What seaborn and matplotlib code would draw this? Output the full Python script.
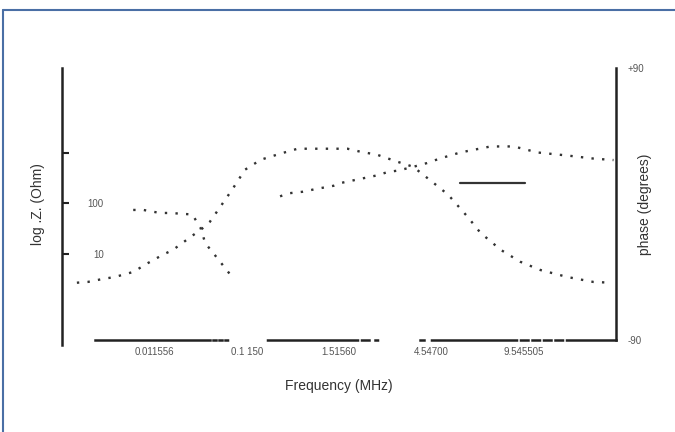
import numpy as np
import pandas as pd
import matplotlib
matplotlib.use("Agg")
import matplotlib.pyplot as plt
from matplotlib.lines import Line2D
import seaborn as sns

# impedance magnitude (left axis, log)
freq_z = [0.16, 0.28, 0.44, 0.57, 0.77, 0.93, 1.09, 1.20, 1.35, 1.53, 1.60, 1.69,
          1.84, 1.98, 2.15, 2.36, 2.55, 2.69, 2.93, 3.09, 3.23, 3.41, 3.63, 3.80,
          4.02, 4.18, 4.39, 4.53, 4.75, 4.96, 5.18, 5.47, 5.75, 5.94]
z_ohm = [2.7, 2.8, 3.2, 3.5, 4.4, 6.6, 9.6, 12, 19, 33, 43, 74,
         184, 458, 721, 948, 1190, 1190, 1190, 1190, 1038, 906, 659, 525,
         253, 147, 54, 26, 12, 7.0, 4.8, 3.5, 2.8, 2.7]

# phase (right axis), gap where the trace breaks
freq_ph = [0.77, 0.88, 1.06, 1.17, 1.41, 1.50, 1.55, 1.63, 1.85, 2.10,
           2.36, 2.45, 2.60, 2.76, 2.94, 3.03, 3.42, 3.52, 3.63, 3.77,
           3.95, 4.09, 4.31, 4.64, 4.89, 5.15, 5.47, 5.75, 5.97]
phase_deg = [-4, -4, -6, -6, -7, -16, -26, -32, -49, np.nan,
             5, 7, 8, 10, 12, 14, 19, 21, 22, 24,
             27, 30, 34, 38, 38, 34, 32, 30, 29]

xtick_pos = [1, 2, 3, 4, 5]
xtick_labels = ["0.011556", "0.1 150", "1.51560", "4.54700", "9.545505"]

sns.set_theme(style="white")
plt.rcParams['font.family'] = ['Liberation Sans', 'DejaVu Sans']

fig = plt.figure(figsize=(6.75, 4.32), dpi=100)
ax = fig.add_axes([0.092, 0.213, 0.821, 0.63])
ax2 = ax.twinx()

dots = (0, (1, 3.5))
sns.lineplot(x=freq_z, y=z_ohm, ax=ax, color="#333333", lw=1.7, linestyle=dots, sort=False)
df_ph = pd.DataFrame({"f": freq_ph, "p": phase_deg})
ax2.plot(df_ph["f"], df_ph["p"], color="#333333", lw=1.7, linestyle=dots)

ax.set_yscale("log")
ax.set_ylim(0.2, 47000)
ax.set_xlim(0, 6)
ax2.set_ylim(-90, 90)

for a in (ax, ax2):
    for s in a.spines.values():
        s.set_color("#222222")
        s.set_linewidth(1.8)
for name in ("top", "right"):
    ax.spines[name].set_visible(False)
for name in ("top", "bottom", "left"):
    ax2.spines[name].set_visible(False)
ax.spines['left'].set_bounds(0.16, 47000)
ax.spines['bottom'].set_bounds(0.36, 6)
# broken-looking x axis line
ax.spines['bottom'].set_linestyle((0, (46, 1.2, 1.2, 1.2, 1.2, 1.2, 1, 16, 36, 1.6, 3, 2.4, 1, 17,
                                       1.6, 3, 34, 1.6, 3, 1.6, 3, 1.6, 3, 1.6, 3, 1.6, 40, 0.1)))

ax.set_xticks(xtick_pos)
ax.set_xticklabels(xtick_labels, fontsize=7, color="#555555")
ax.tick_params(axis='x', length=5, width=1.5, color="#222222", direction='in', pad=5)

ax.set_yticks([10, 100, 1000])
ax.set_yticklabels(["10", "100", ""], fontsize=7, color="#555555")
ax.yaxis.set_minor_locator(matplotlib.ticker.NullLocator())
ax.tick_params(axis='y', length=5, width=1.5, color="#222222", direction='in', pad=-30)

ax2.set_yticks([-90, 90])
ax2.set_yticklabels(["-90", "+90"], fontsize=7, color="#555555")
ax2.tick_params(axis='y', length=0, pad=8)

ax.set_ylabel("log .Z. (Ohm)", fontsize=10, color="#333333", labelpad=12)
ax2.set_ylabel("phase (degrees)", fontsize=10, color="#333333")
ax2.yaxis.set_label_coords(1.04, 0.5)
ax.set_xlabel("Frequency (MHz)", fontsize=10, color="#333333", labelpad=16)

# legend key line (no text)
ax.add_line(Line2D([0.718, 0.836], [0.577, 0.577], color="#333333", lw=1.6, transform=ax.transAxes))

# page frame
fig.add_artist(Line2D([0.005, 1.0], [0.977, 0.977], color="#4a6fa5", lw=1.5, transform=fig.transFigure))
fig.add_artist(Line2D([0.005, 0.005], [0.0, 0.977], color="#4a6fa5", lw=1.5, transform=fig.transFigure))

fig.savefig("out.png", dpi=100)
